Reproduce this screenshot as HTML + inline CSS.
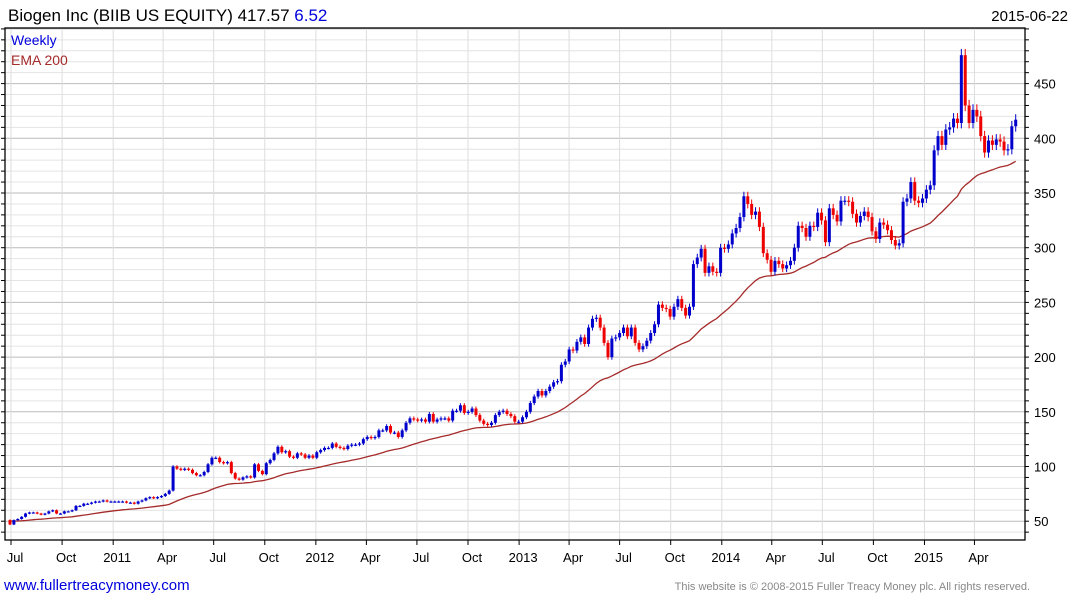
<!DOCTYPE html>
<html><head><meta charset="utf-8"><style>
body{margin:0;background:#fff;font-family:"Liberation Sans",sans-serif;}
#wrap{position:relative;width:1075px;height:600px;overflow:hidden;}
</style></head><body>
<div id="wrap">
<svg id="chart" width="1075" height="600" xmlns="http://www.w3.org/2000/svg">
<g id="grid"></g>
<g id="ema"></g>
<g id="candles"></g>
<rect x="5" y="28" width="1020" height="512" fill="none" stroke="#000" stroke-width="1.3"/>
<g id="yaxis"></g>
<g id="xaxis"></g>
<text x="8" y="21" font-size="17" fill="#000">Biogen Inc (BIIB US EQUITY) 417.57 <tspan fill="#0000dd">6.52</tspan></text>
<text x="1068" y="21" font-size="15" text-anchor="end" fill="#000">2015-06-22</text>
<text x="11" y="45" font-size="14" fill="#0000dd">Weekly</text>
<text x="11" y="65" font-size="14" fill="#a52a2a">EMA 200</text>
<text x="4" y="590" font-size="15" fill="#0000dd">www.fullertreacymoney.com</text>
<text x="1030" y="590" font-size="11" text-anchor="end" fill="#888">This website is © 2008-2015 Fuller Treacy Money plc. All rights reserved.</text>
</svg>
</div>
<script>
const closes = [47,51,52,54,57,58,58,57,56,57,59,60,57,57,59,59,60,64,64,66,66,67,68,68,69,68,68,68,68,68,67,67,66,68,69,71,72,71,72,73,75,78,100,
98,97,98,97,94,92,92,95,102,108,108,104,103,104,94,89,88,90,91,90,102,96,93,103,106,112,118,113,114,109,108,112,111,108,110,108,113,115,117,117,121,118,117,116,
119,120,120,121,125,127,126,127,133,133,137,131,131,127,133,140,144,143,142,143,141,148,141,143,144,144,142,151,151,156,149,150,153,147,142,139,138,140,147,150,151,148,146,141,141,145,150,158,
164,169,165,169,173,177,178,193,196,207,206,214,218,212,227,235,236,227,213,200,217,218,222,227,219,227,213,207,210,215,222,230,248,245,244,237,246,253,245,238,246,285,
291,299,277,283,278,277,300,299,303,313,318,328,347,340,330,333,319,295,289,278,288,285,281,284,288,300,320,318,310,320,319,332,325,305,336,330,324,343,343,342,331,323,329,333,328,315,
308,323,321,316,307,302,304,342,
345,360,343,341,345,353,357,389,402,394,408,410,418,414,476,430,414,426,420,402,387,398,394,399,397,389,390,411,417];
const firstOpen = 51;
const yTicks = [50,100,150,200,250,300,350,400,450];
const xTickLabels = ["Jul","Oct","2011","Apr","Jul","Oct","2012","Apr","Jul","Oct","2013","Apr","Jul","Oct","2014","Apr","Jul","Oct","2015","Apr"];
const xTickDates = ["2010-07-01","2010-10-01","2011-01-01","2011-04-01","2011-07-01","2011-10-01","2012-01-01","2012-04-01","2012-07-01","2012-10-01","2013-01-01","2013-04-01","2013-07-01","2013-10-01","2014-01-01","2014-04-01","2014-07-01","2014-10-01","2015-01-01","2015-04-01"];
const emaPeriodWeeks = 40;

const NS="http://www.w3.org/2000/svg";
function y(v){return 138.3+(400-v)*1.094;}
function xi(k){return 10+k*(1015.7-10)/(closes.length-1);}
function xd(s){const d=(new Date(s+"T00:00:00Z")-new Date("2010-07-01T00:00:00Z"))/86400000;return 11+d*0.5553;}
function mk(t,a,p){const e=document.createElementNS(NS,t);for(const k in a)e.setAttribute(k,a[k]);p.appendChild(e);return e;}

const grid=document.getElementById('grid');
for(let v=40;v<=500;v+=10){
  const l=mk('line',{x1:5,x2:1025,y1:y(v),y2:y(v),stroke:v%50===0?'#bbb':'#e4e4e4','stroke-width':1},grid);
  
  
  const t=mk('line',{x1:1025,x2:1029,y1:y(v),y2:y(v),stroke:'#000','stroke-width':1},document.getElementById('yaxis'));
  
  
  const t2=mk('line',{x1:1,x2:5,y1:y(v),y2:y(v),stroke:'#000','stroke-width':1},document.getElementById('yaxis'));
  
  
}
xTickDates.forEach((d,i)=>{
  const x=xd(d);
  const l=mk('line',{x1:x,x2:x,y1:28,y2:540,stroke:'#ddd','stroke-width':1},grid);
  
  
  const tk=mk('line',{x1:x,x2:x,y1:540,y2:545,stroke:'#000'},document.getElementById('xaxis'));
  
  
  const t=mk('text',{x:x+4,y:562,'font-size':13,'text-anchor':'middle',fill:'#000'},document.getElementById('xaxis'));
  t.textContent=xTickLabels[i];
  
  
});
yTicks.forEach(v=>{
  const t=mk('text',{x:1034,y:y(v)+5,'font-size':13,fill:'#000'},document.getElementById('yaxis'));
  t.textContent=v;
  
  
});
const cg=document.getElementById('candles');
closes.forEach((c,k)=>{
  const o=k===0?firstOpen:closes[k-1];
  const up=c>=o;const col=up?'#0000cc':'#ee0000';
  const hi=Math.max(o,c)*1.012, lo=Math.min(o,c)*0.988;
  const x=xi(k);
  const w=mk('line',{x1:x,x2:x,y1:y(hi),y2:y(lo),stroke:col,'stroke-width':1},cg);
  
  
  const top=y(Math.max(o,c)),bot=y(Math.min(o,c));
  const b=mk('rect',{x:x-1.5,y:top,width:3,height:Math.max(1.2,bot-top),fill:col},cg);
  
  
});
let e=50;const a=2/(emaPeriodWeeks+1);let pts=[];
closes.forEach((c,k)=>{if(k>0)e=e+a*(c-e);pts.push(xi(k).toFixed(1)+','+y(e).toFixed(1));});
const pl=mk('polyline',{points:pts.join(' '),fill:'none',stroke:'#a52a2a','stroke-width':1.3},document.getElementById('ema'));


</script>
</body></html>
